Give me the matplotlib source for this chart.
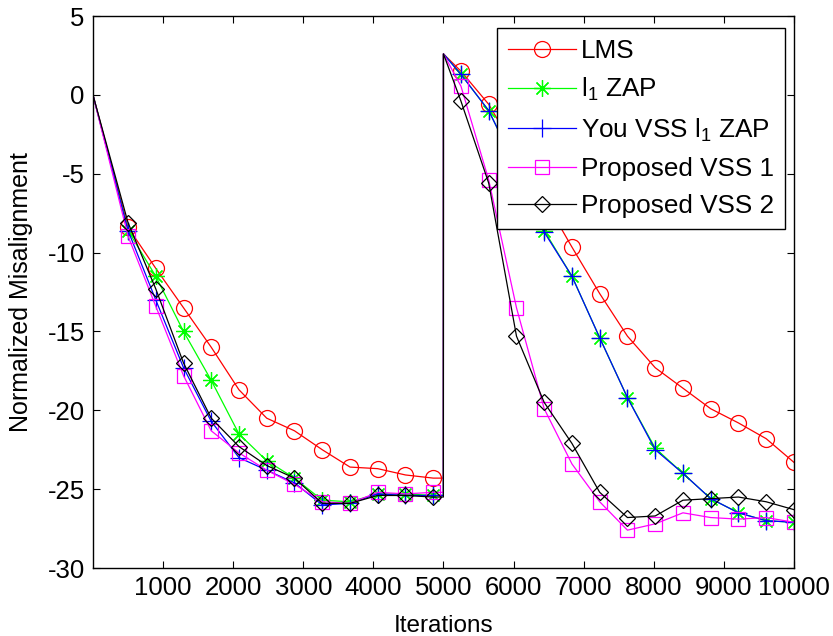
import matplotlib
matplotlib.use('Agg')
import matplotlib.pyplot as plt

plt.rcParams['font.family'] = ['Liberation Sans', 'DejaVu Sans']
plt.rcParams['mathtext.default'] = 'regular'
plt.rcParams['axes.unicode_minus'] = False

# marker positions (iterations) before and after the system change at 5000
marks_a = [500, 896, 1292, 1687, 2083, 2479, 2875, 3271, 3667, 4062, 4458, 4854]
marks_b = [5250, 5646, 6042, 6437, 6833, 7229, 7625, 8021, 8417, 8812, 9208, 9604, 10000]
jump_x = 5000
jump_top = 2.6

lms_a = [-8.4, -11.0, -13.5, -16.0, -18.7, -20.5, -21.3, -22.5, -23.6, -23.7, -24.1, -24.3]
lms_b = [1.5, -0.6, -3.6, -6.6, -9.65, -12.6, -15.3, -17.3, -18.6, -19.9, -20.8, -21.8, -23.3]
zap_a = [-8.6, -11.5, -15.0, -18.1, -21.5, -23.2, -24.3, -25.7, -25.8, -25.3, -25.3, -25.4]
zap_b = [1.3, -1.0, -4.6, -8.6, -11.5, -15.4, -19.2, -22.4, -24.0, -25.6, -26.5, -27.0, -27.1]
you_a = [-8.6, -13.0, -17.3, -20.7, -23.0, -23.8, -24.6, -26.0, -25.9, -25.3, -25.4, -25.4]
you_b = [1.3, -1.0, -4.6, -8.7, -11.5, -15.4, -19.2, -22.5, -24.0, -25.6, -26.5, -27.0, -27.1]
vss1_a = [-8.95, -13.4, -17.8, -21.3, -22.7, -23.8, -24.7, -25.8, -25.9, -25.2, -25.3, -25.2]
vss1_b = [0.55, -5.4, -13.5, -19.9, -23.4, -25.8, -27.6, -27.2, -26.5, -26.8, -26.9, -26.8, -27.1]
vss2_a = [-8.1, -12.3, -17.0, -20.5, -22.3, -23.5, -24.3, -25.9, -25.9, -25.4, -25.4, -25.5]
vss2_b = [-0.4, -5.6, -15.3, -19.5, -22.1, -25.2, -26.8, -26.7, -25.7, -25.6, -25.5, -25.8, -26.3]

series = [
    ('LMS', lms_a, lms_b, '#ff0000', 'o', 11.5),
    ('l$_1$ ZAP', zap_a, zap_b, '#00ff00', (8, 2, 0), 12),
    ('You VSS l$_1$ ZAP', you_a, you_b, '#0000ff', '+', 13),
    ('Proposed VSS 1', vss1_a, vss1_b, '#ff00ff', 's', 9.5),
    ('Proposed VSS 2', vss2_a, vss2_b, '#000000', 'D', 8.5),
]

fig = plt.figure(figsize=(8.33, 6.36), dpi=100)
ax = fig.add_axes([0.1116, 0.1069, 0.8415, 0.8679])

for name, ya, yb, col, mk, ms in series:
    xs = [0] + marks_a + [jump_x - 1, jump_x] + marks_b
    ys = [0] + ya + [ya[-1], jump_top] + yb
    idx = list(range(1, len(marks_a) + 1)) + list(range(len(marks_a) + 3, len(xs)))
    ax.plot(xs, ys, color=col, lw=0.9, marker=mk, ms=ms, mfc='none',
            mec=col, mew=0.9, markevery=idx, label=name)

ax.set_xlim(0, 10000)
ax.set_ylim(-30, 5)
ax.set_xticks(range(1000, 10001, 1000))
ax.set_yticks(range(-30, 6, 5))
ax.tick_params(direction='in', length=5, width=0.8, top=True, right=True,
               labelsize=18.5)
ax.tick_params(axis='x', pad=6)
ax.tick_params(axis='y', pad=6)
for s in ax.spines.values():
    s.set_linewidth(1.0)

ax.set_xlabel('Iterations', fontsize=17.5)
ax.set_ylabel('Normalized Misalignment', fontsize=18)
ax.xaxis.set_label_coords(0.5, -0.085)
ax.yaxis.set_label_coords(-0.085, 0.5)

leg = ax.legend(loc='upper right', bbox_to_anchor=(0.987, 0.978), borderaxespad=0,
                fontsize=18.8, fancybox=False, framealpha=1, edgecolor='k',
                handlelength=2.6, handletextpad=0.2, labelspacing=0.5,
                borderpad=0.42)
leg.get_frame().set_linewidth(1.0)

fig.savefig('out.png', dpi=100)
